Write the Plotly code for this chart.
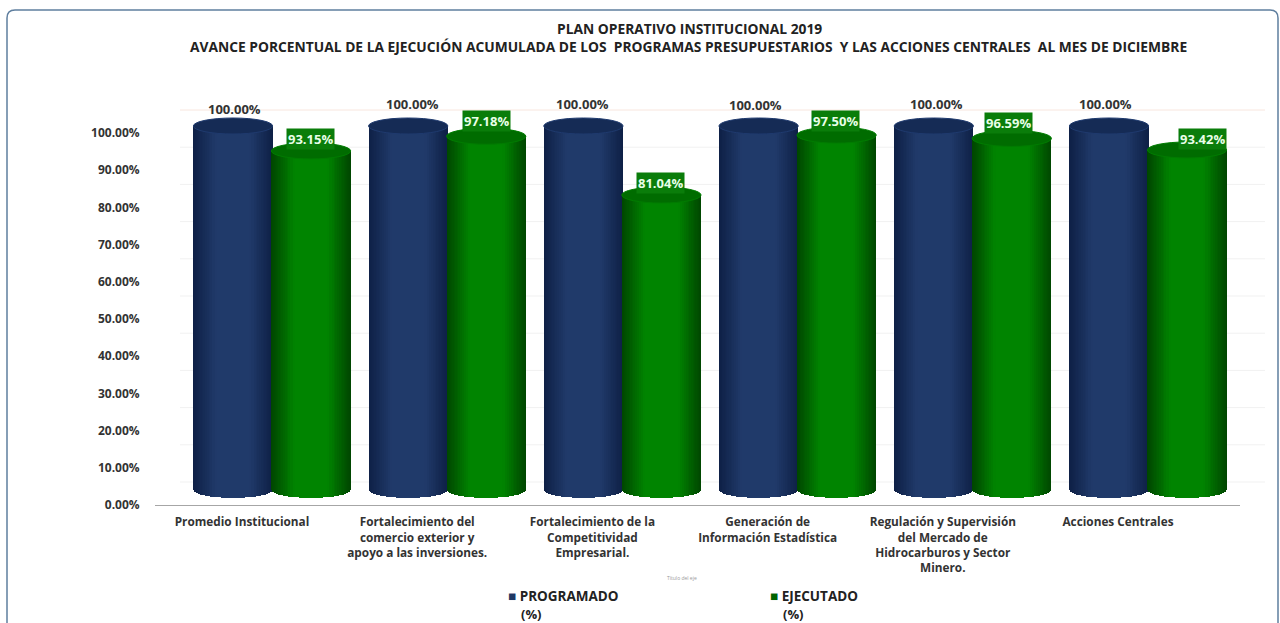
import math
import plotly.graph_objects as go

title_lines = ["PLAN OPERATIVO INSTITUCIONAL 2019",
               "AVANCE PORCENTUAL DE LA EJECUCIÓN ACUMULADA DE LOS  PROGRAMAS PRESUPUESTARIOS  Y LAS ACCIONES CENTRALES  AL MES DE DICIEMBRE"]
categories = ["Promedio Institucional",
              "Fortalecimiento del<br>comercio exterior y<br>apoyo a las inversiones.",
              "Fortalecimiento de la<br>Competitividad<br>Empresarial.",
              "Generación de<br>Información Estadística",
              "Regulación y Supervisión<br>del Mercado de<br>Hidrocarburos y Sector<br>Minero.",
              "Acciones Centrales"]
programado = [100.0, 100.0, 100.0, 100.0, 100.0, 100.0]
ejecutado = [93.15, 97.18, 81.04, 97.50, 96.59, 93.42]
y_ticks = [0, 10, 20, 30, 40, 50, 60, 70, 80, 90, 100]
series_names = ["PROGRAMADO", "EJECUTADO"]
blue_shift_x = [1, 4, -1, -3, 3, -4]
blue_shift_y = [11, 16, 16, 15, 16, 16]
green_shift_x = [-1, 0, -1, -1, -3, 15]
green_shift_y = [12, 15, 12, 14, 15, 11]

W, H = 1280, 623
def px(v): return v / W
def py(v): return 1 - v / H

LEFT, RIGHT, BOTTOM, TOP = 155, 1240, 505, 100
STEP = 175.2
FIRST_CENTER = 272
dom_x = [px(LEFT), px(RIGHT)]
dom_y = [py(BOTTOM), py(TOP)]
lo = -0.5 - (FIRST_CENTER - STEP / 2 - LEFT) / STEP
hi = lo + (RIGHT - LEFT) / STEP
label_shift = 30 / STEP

SCALE_Y, SCALE_BAR = 3.72, 3.64
bar_base_px = 490
HALF_W = 0.2265
CENTER = 0.2226
CAP_H = 8 / SCALE_BAR
N = 26

def mix(a, b, t):
    return "rgb(%d,%d,%d)" % tuple(round(a[i] + (b[i] - a[i]) * t) for i in range(3))

fig = go.Figure()
series = [programado, ejecutado]
edge = [(14, 32, 70), (0, 70, 0)]
mid = [(32, 58, 106), (0, 132, 0)]
sides = [-1, 1]
for s in range(2):
    for k in range(N):
        f = math.cos(k / N * math.pi / 2)
        drop = CAP_H * math.sqrt(max(0, 1 - f * f))
        t = min(1, (1 - f) / 0.55)
        w = 2 * HALF_W * f
        fig.add_trace(go.Bar(
            x=categories, y=[v + drop for v in series[s]], base=[-drop] * 6,
            width=w, offset=sides[s] * CENTER - w / 2,
            marker=dict(color=mix(edge[s], mid[s], t), line=dict(width=0)),
            name=series_names[s], showlegend=False,
            xaxis="x2", yaxis="y2", hoverinfo="skip"))

# invisible trace that carries the tick-label axes
fig.add_trace(go.Scatter(x=categories, y=programado, mode="markers", opacity=0,
                         showlegend=False, xaxis="x", yaxis="y", hoverinfo="skip"))

shapes = []
# back wall grid, drawn from the same tick values, lifted as in the 3D view
for v in y_ticks:
    shapes.append(dict(type="line", layer="below", xref="paper", yref="y",
                       x0=px(180), x1=px(1265), y0=v + 23 / SCALE_Y, y1=v + 23 / SCALE_Y,
                       line=dict(color="#f8e6de" if v == 100 else "#f1f1f1", width=1)))
cap_fill = ["#152b55", "#006c00"]
cap_line = ["#1f3a6e", "#007c00"]
for s in range(2):
    for i, v in enumerate(series[s]):
        c = i + sides[s] * CENTER
        shapes.append(dict(type="circle", xref="x2", yref="y2",
                           x0=c - HALF_W, x1=c + HALF_W, y0=v - CAP_H, y1=v + CAP_H,
                           fillcolor=cap_fill[s], line=dict(color=cap_line[s], width=1)))
# outer frame of the picture
shapes.append(dict(type="path", xref="paper", yref="paper", layer="below",
                   path=f"M {px(7)} 0 L {px(7)} {py(18)} Q {px(7)} {py(10)} {px(15)} {py(10)} "
                        f"L {px(1270)} {py(10)} Q {px(1278)} {py(10)} {px(1278)} {py(18)} L {px(1278)} 0",
                   line=dict(color="#5f7f9f", width=1.5)))

ann = []
FONT = "Open Sans"
for i, line in enumerate(title_lines):
    ann.append(dict(text=f"<b>{line}</b>", xref="paper", yref="paper", showarrow=False,
                    xanchor="center", yanchor="middle",
                    x=px(689 if i == 0 else 688), y=py(29 if i == 0 else 46),
                    font=dict(family=FONT, size=13.8, color="#222222")))
for i in range(6):
    ann.append(dict(text="<b>%.2f%%</b>" % programado[i], x=i - CENTER, y=programado[i],
                    xref="x2", yref="y2", showarrow=False, yanchor="bottom",
                    xshift=blue_shift_x[i], yshift=blue_shift_y[i] - 5,
                    font=dict(family=FONT, size=13, color="#333333")))
    ann.append(dict(text="<b>%.2f%%</b>" % ejecutado[i], x=i + CENTER, y=ejecutado[i],
                    xref="x2", yref="y2", showarrow=False,
                    xshift=green_shift_x[i], yshift=green_shift_y[i],
                    bgcolor="#0a7d0a", borderpad=1,
                    font=dict(family=FONT, size=13, color="#e8ffe8")))
ann.append(dict(text="Título del eje", xref="paper", yref="paper", showarrow=False,
                xanchor="center", yanchor="middle",
                x=px(682), y=py(578), font=dict(family=FONT, size=5, color="#999999")))
# legend entries
leg_colors = ["#1f3864", "#006400"]
leg_x = [506, 768]
for s in range(2):
    ann.append(dict(text=f"<span style='color:{leg_colors[s]}'>■</span> <b>{series_names[s]}</b>",
                    xref="paper", yref="paper", showarrow=False, xanchor="left", yanchor="middle",
                    x=px(leg_x[s]), y=py(596),
                    font=dict(family=FONT, size=13.5, color="#222222")))
    ann.append(dict(text="<b>(%)</b>", xref="paper", yref="paper", showarrow=False,
                    xanchor="left", yanchor="middle",
                    x=px(leg_x[s] + 13), y=py(614),
                    font=dict(family=FONT, size=13, color="#222222")))

fig.update_layout(
    width=W, height=H, margin=dict(l=0, r=0, t=0, b=0),
    paper_bgcolor="white", plot_bgcolor="rgba(0,0,0,0)", showlegend=False,
    barmode="overlay", bargap=0, shapes=shapes, annotations=ann,
    xaxis=dict(domain=dom_x, type="category", categoryorder="array", categoryarray=categories,
               range=[lo + label_shift, hi + label_shift], showgrid=False, zeroline=False,
               automargin=False,
               showline=True, linecolor="#a6a6a6", linewidth=1, anchor="y",
               ticks="outside", ticklen=6, tickcolor="rgba(0,0,0,0)", tickangle=0,
               tickfont=dict(family=FONT, size=11.8, color="#333333", weight="bold")),
    yaxis=dict(domain=dom_y, range=[0, (BOTTOM - TOP) / SCALE_Y], tickvals=y_ticks,
               ticktext=["%.2f%%" % v for v in y_ticks], showgrid=False, zeroline=False,
               automargin=False,
               showline=False, ticks="outside", ticklen=12, tickcolor="rgba(0,0,0,0)",
               anchor="x", tickfont=dict(family=FONT, size=12, color="#333333", weight="bold")),
    xaxis2=dict(domain=dom_x, type="category", categoryorder="array", categoryarray=categories,
                range=[lo, hi], visible=False, overlaying="x", anchor="y2", automargin=False),
    yaxis2=dict(domain=dom_y, overlaying="y", visible=False, anchor="x2", automargin=False,
                range=[-(BOTTOM - bar_base_px) / SCALE_BAR, (bar_base_px - TOP) / SCALE_BAR]),
)
fig.write_html("out.html", config=dict(displayModeBar=False),
               post_script="document.body.style.margin='0';")
